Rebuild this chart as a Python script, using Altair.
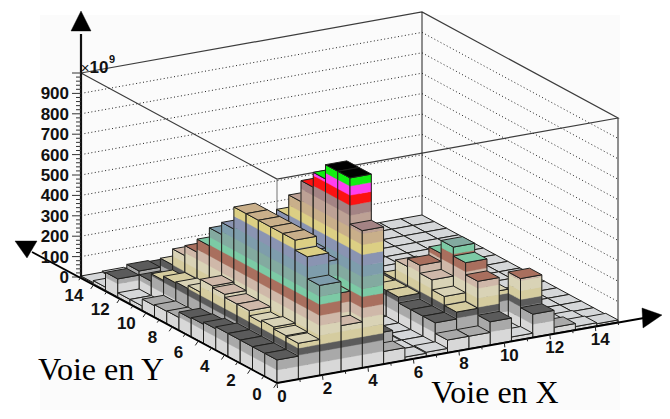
import altair as alt

# ---- data: bar heights, units of 1e9, rows = X bin, columns = Y bin
H = [
 [113,113,113,113,113,103, 93, 88, 61, 59, 54, 20, 20, 88, 15,  5],
 [176,181,191,181,206,206,221,230,167,152,147,127, 90,108, 20, 10],
 [441,549,598,598,598,598,598,490,431,343,279,230,152,103, 15,  5],
 [225,343,466,490,515,490,441,343,270,196,147, 74, 20, 15, 10,  5],
 [672,898,898,828,755,652,549,392,245,147, 74, 20, 10,  5,  5,  5],
 [ 61,113, 40, 30, 20, 15, 10,  5,  5,  5,  5,  5,  5,  5,  5,  5],
 [ 15, 15, 10, 10, 10,  5,  5,  5,  5,  5,  5,  5,  5,  5,  5,  5],
 [ 20, 15, 15, 15, 15, 15, 10,  5,  5,  5,  5,  5,  5,  5,  5,  5],
 [ 61,113,113,113,142,142,137, 49, 15,  5,  5,  5,  5,  5,  5,  5],
 [ 61,147,191,240,279,240,147, 49, 15,  5,  5,  5,  5,  5,  5,  5],
 [113,279,338,382,318, 98, 20,  5,  5,  5,  5,  5,  5,  5,  5,  5],
 [ 20, 15,171, 74, 20,  5,  5,  5,  5,  5,  5,  5,  5,  5,  5,  5],
 [113,255, 40, 20, 15,  5,  5,  5,  5,  5,  5,  5,  5,  5,  5,  5],
 [ 30, 20,  5,  5,  5,  5,  5,  5,  5,  5,  5,  5,  5,  5,  5,  5],
 [ 15, 10,  5,  5,  5,  5,  5,  5,  5,  5,  5,  5,  5,  5,  5,  5],
 [ 10,  5,  5,  5,  5,  5,  5,  5,  5,  5,  5,  5,  5,  5,  5,  5],
]
LEVEL_EDGES = [64,118,152,196,245,294,348,387,446,500,554,603,657,715,764,813,858,902]
BAND_COLORS = ["#d8d8d8","#a9a9a9","#5b5b5b","#d5cc9f","#d9d3b6","#cfb8a9","#a96f5e",
               "#7ccaa5","#83aaa0","#7e9dac","#8a94b2","#dccf84","#c9af8a","#bda195",
               "#a38384","#fb1212","#ff3ff0","#12ee12","#000000"]
GROUND_COLOR = "#d5d7d9"
Z_TICKS = [0,100,200,300,400,500,600,700,800,900]
AXIS_TICKS = [0,2,4,6,8,10,12,14]

# ---- oblique projection of the ROOT lego box
NBINS = 16
O = (269.0, 375.0)            # front corner, in plot pixels
XV = (341.0, -61.0)           # full x axis
YV = (-196.0, -106.0)         # full y axis
ZS = 0.204                    # px per 1e9

def P(x, y, z=0.0):           # x, y in axis fraction
    return [O[0] + XV[0]*x + YV[0]*y, O[1] + XV[1]*x + YV[1]*y - ZS*z]

def poly(pts, fill, stroke=None, sw=0.4):
    ring = [list(p) for p in pts] + [list(pts[0])]
    return {"type":"Feature","geometry":{"type":"Polygon","coordinates":[ring]},
            "properties":{"fill":fill,"stroke":stroke or fill,"sw":sw}}

def line(pts, stroke, sw=1.0):
    return {"type":"Feature","geometry":{"type":"LineString","coordinates":[list(p) for p in pts]},
            "properties":{"fill":"transparent","stroke":stroke,"sw":sw}}

def band_of(h):
    k = 0
    while k < len(LEVEL_EDGES) and h >= LEVEL_EDGES[k]:
        k += 1
    return k

def face(a, b, h, out):
    edges = [0.0] + [e for e in LEVEL_EDGES if e < h] + [h]
    for k in range(len(edges)-1):
        z0, z1 = edges[k], edges[k+1]
        out.append(poly([P(*a,z0),P(*b,z0),P(*b,z1),P(*a,z1)], BAND_COLORS[k]))
    out.append(poly([P(*a,0),P(*b,0),P(*b,h),P(*a,h)], "transparent", "#20201e", 1.0))

bars = []
u = 1.0/NBINS
for i in range(NBINS-1, -1, -1):
    for j in range(NBINS-1, -1, -1):
        h = H[i][j]
        x0, x1, y0, y1 = i*u, (i+1)*u, j*u, (j+1)*u
        face((x0,y1),(x0,y0),h,bars)     # left-facing side
        face((x0,y0),(x1,y0),h,bars)     # right-facing side
        top = GROUND_COLOR if h < 25 else BAND_COLORS[min(band_of(h)+1, len(BAND_COLORS)-1)]
        bars.append(poly([P(x0,y0,h),P(x1,y0,h),P(x1,y1,h),P(x0,y1,h)], top, "#20201e", 1.0))

# ---- back-of-box
walls = [
    poly([[32,7],[612,7],[612,402],[32,402]], "#fbfbfb", "#fbfbfb", 0),
    line([P(0,1,1000),P(0,0,1000),P(1,0,1000),P(1,1,1000),P(0,1,1000)], "#3c3c3c", 1.2),
    line([P(0,0,0),P(0,0,1000)], "#8a8a8a", 1.2),
    line([P(1,1,0),P(1,1,1000)], "#222222", 1.0),
    line([P(1,0,0),P(1,0,1000)], "#222222", 1.0),
    line([P(0,1,0),P(1,1,0),P(1,0,0)], "#555555", 1.0),
]
dots = []
for z in Z_TICKS[1:]:
    dots.append(line([P(0,1,z),P(1,1,z),P(1,0,z)], "#222222", 1.0))

# ---- axes
axes = []
# z axis
axes.append(line([P(0,1,0),[P(0,1,0)[0],26]], "#111111", 2.2))
axes.append(poly([[P(0,1,0)[0],3],[P(0,1,0)[0]-10,23],[P(0,1,0)[0]+10,23]], "#000000"))
for k in range(0, 51):
    z = k*20
    p = P(0,1,z)
    ln = 9 if k % 5 == 0 else 5
    axes.append(line([p,[p[0]-ln,p[1]]], "#333333", 1.0))
# x axis with arrow
axes.append(line([P(0,0,0),[636,310]], "#000000", 2.0))
axes.append(poly([[654,307],[634,300],[635,320]], "#000000"))
# y axis with arrow
axes.append(line([P(0,0,0),[24,244]], "#000000", 1.8))
axes.append(poly([[7,233],[29,233],[19,250]], "#000000"))
for k in range(0, 16):
    f = k/15
    p = P(f,0); ln = 5 if k % 2 == 0 else 3
    axes.append(line([p,[p[0]+0.5,p[1]+ln]], "#222222", 1.0))
    q = P(0,f); ln = 6 if k % 2 == 0 else 4
    axes.append(line([q,[q[0]-ln*0.55,q[1]+ln*0.8]], "#222222", 1.0))

def geo(feats, **mk):
    return alt.Chart(alt.Data(values=feats)).mark_geoshape(opacity=1, **mk).encode(
        fill=alt.Fill("properties.fill:N", scale=None),
        stroke=alt.Stroke("properties.stroke:N", scale=None),
        strokeWidth=alt.StrokeWidth("properties.sw:Q", scale=None),
    ).project(type="identity", scale=1, translate=[0,0])

bold_labels = []
for z in Z_TICKS:
    p = P(0,1,z)
    bold_labels.append({"px":p[0]-12,"py":p[1]+1,"t":str(z),"a":"right"})
for v in AXIS_TICKS:
    p = P(v/15,0); bold_labels.append({"px":p[0]+5,"py":p[1]+14,"t":str(v),"a":"center"})
    q = P(0,v/15); bold_labels.append({"px":q[0]-20,"py":q[1]+12,"t":str(v),"a":"center"})

def txt(rows, font, size, weight="normal", align="center", color="#111111"):
    return alt.Chart(alt.Data(values=rows)).mark_text(
        font=font, fontSize=size, fontWeight=weight, align=align, baseline="middle", color=color
    ).encode(x=alt.X("px:Q", scale=None, axis=None), y=alt.Y("py:Q", scale=None, axis=None), text="t:N")

right_lab = [r for r in bold_labels if r["a"]=="right"]
cent_lab = [r for r in bold_labels if r["a"]=="center"]
bold = "Liberation Sans"

chart = alt.layer(
    geo(walls),
    geo(dots, strokeDash=[1,2.5]),
    geo(bars),
    geo(axes),
    txt(right_lab, bold, 17, "bold", "right"),
    txt(cent_lab, bold, 17, "bold"),
    txt([{"px":77,"py":60,"t":"×"}], bold, 15),
    txt([{"px":91,"py":60,"t":"10"}], bold, 17, "bold"),
    txt([{"px":104,"py":52,"t":"9"}], bold, 11, "bold"),
    txt([{"px":93,"py":362,"t":"Voie en Y"}], "Liberation Serif", 32, color="#000000"),
    txt([{"px":487,"py":385,"t":"Voie en X"}], "Liberation Serif", 32, color="#000000"),
).properties(width=654, height=403, padding=0, background="white",
             autosize=alt.AutoSizeParams(type="none")).configure_view(stroke=None)

chart.save("out.html", embed_options={"renderer": "svg", "actions": False})
